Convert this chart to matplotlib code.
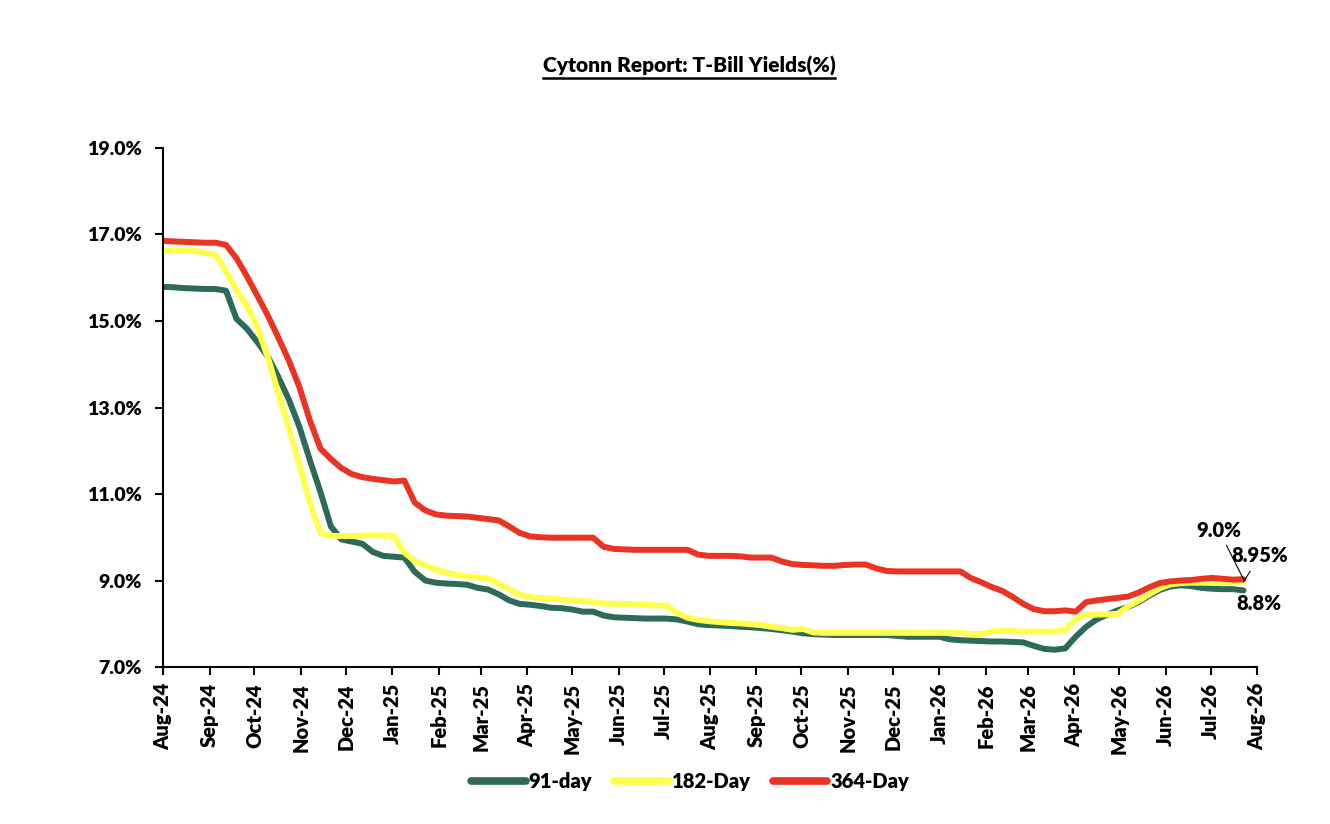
import numpy as np
import pandas as pd
import matplotlib
matplotlib.use("Agg")
import matplotlib.pyplot as plt
import matplotlib.dates as mdates
from matplotlib.lines import Line2D

plt.rcParams['font.family'] = ['Lato', 'DejaVu Sans']
W = "heavy"

# weekly auction dates
dates = pd.date_range("2024-08-01", periods=104, freq="7D")

# 91-day yields (%)
t91 = [15.79, 15.78, 15.76, 15.75, 15.74, 15.74, 15.70, 15.05, 14.82, 14.51,
       14.17, 13.70, 13.18, 12.55, 11.78, 11.05, 10.25, 9.95, 9.90, 9.85,
       9.66, 9.57, 9.55, 9.53, 9.20, 9.00, 8.95, 8.93, 8.92, 8.90,
       8.83, 8.79, 8.68, 8.54, 8.46, 8.44, 8.41, 8.37, 8.36, 8.33,
       8.28, 8.28, 8.19, 8.15, 8.14, 8.13, 8.12, 8.12, 8.12, 8.10,
       8.05, 7.99, 7.97, 7.96, 7.95, 7.93, 7.92, 7.90, 7.88, 7.85,
       7.82, 7.78, 7.76, 7.75, 7.74, 7.74, 7.74, 7.74, 7.74, 7.74,
       7.72, 7.70, 7.70, 7.70, 7.70, 7.64, 7.62, 7.61, 7.60, 7.59,
       7.59, 7.58, 7.57, 7.49, 7.42, 7.40, 7.43, 7.70, 7.93, 8.10,
       8.21, 8.31, 8.39, 8.50, 8.65, 8.78, 8.86, 8.89, 8.87, 8.83,
       8.81, 8.80, 8.80, 8.77]

# 182-day yields (%)
t182 = [16.63, 16.63, 16.63, 16.62, 16.58, 16.53, 16.15, 15.72, 15.35, 14.85,
        14.15, 13.33, 12.52, 11.67, 10.80, 10.10, 10.03, 10.03, 10.03, 10.04,
        10.05, 10.04, 10.03, 9.65, 9.45, 9.35, 9.25, 9.18, 9.13, 9.10,
        9.07, 9.05, 8.92, 8.80, 8.67, 8.62, 8.60, 8.58, 8.56, 8.54,
        8.53, 8.50, 8.47, 8.46, 8.46, 8.45, 8.44, 8.42, 8.42, 8.25,
        8.14, 8.09, 8.06, 8.04, 8.02, 8.01, 7.99, 7.97, 7.93, 7.90,
        7.86, 7.88, 7.80, 7.79, 7.79, 7.79, 7.79, 7.79, 7.79, 7.79,
        7.79, 7.79, 7.79, 7.79, 7.79, 7.79, 7.79, 7.76, 7.77, 7.82,
        7.84, 7.83, 7.82, 7.82, 7.82, 7.82, 7.86, 8.10, 8.21, 8.21,
        8.22, 8.23, 8.40, 8.53, 8.68, 8.82, 8.91, 8.94, 8.95, 8.95,
        8.95, 8.95, 8.97, 8.97]

# 364-day yields (%)
t364 = [16.85, 16.84, 16.83, 16.82, 16.81, 16.81, 16.76, 16.45, 16.03, 15.58,
        15.12, 14.61, 14.08, 13.47, 12.70, 12.05, 11.81, 11.60, 11.46, 11.39,
        11.35, 11.32, 11.29, 11.31, 10.80, 10.62, 10.53, 10.50, 10.49, 10.48,
        10.45, 10.42, 10.39, 10.25, 10.10, 10.02, 10.00, 9.99, 9.99, 9.99,
        9.99, 9.99, 9.78, 9.73, 9.72, 9.71, 9.71, 9.71, 9.71, 9.71,
        9.71, 9.60, 9.57, 9.57, 9.57, 9.56, 9.53, 9.53, 9.53, 9.44,
        9.38, 9.36, 9.35, 9.34, 9.34, 9.36, 9.37, 9.37, 9.28, 9.22,
        9.21, 9.21, 9.21, 9.21, 9.21, 9.21, 9.21, 9.06, 8.96, 8.85,
        8.76, 8.62, 8.46, 8.34, 8.29, 8.29, 8.31, 8.28, 8.50, 8.54,
        8.57, 8.60, 8.63, 8.72, 8.84, 8.94, 8.98, 9.00, 9.01, 9.04,
        9.06, 9.04, 9.02, 9.03]

series_names = ["91-day", "182-Day", "364-Day"]
colors = ["#2D6A59", "#FFFF4F", "#EA3323"]
end_labels = ["8.8%", "8.95%", "9.0%"]

fig = plt.figure(figsize=(13.3, 8.24), dpi=100)
ax = fig.add_axes([0.1226, 0.1905, 0.8225, 0.6299])

for vals, name, c in zip([t91, t182, t364], series_names, colors):
    ax.plot(dates, vals, color=c, lw=4.3, label=name, solid_capstyle="round")

ax.set_xlim(pd.Timestamp("2024-08-01"), pd.Timestamp("2026-08-01"))
ax.set_ylim(7, 19)
ax.set_yticks(np.arange(7, 19.1, 2))
ax.yaxis.set_major_formatter(plt.FuncFormatter(lambda v, p: f"{v:.1f}%"))
ax.xaxis.set_major_locator(mdates.MonthLocator())
ax.xaxis.set_major_formatter(mdates.DateFormatter("%b-%y"))
for lab in ax.get_xticklabels():
    lab.set_rotation(90)

ax.tick_params(axis="both", width=1.5, length=5.5, direction="out")
ax.tick_params(axis="y", labelsize=14, pad=10)
ax.tick_params(axis="x", labelsize=14.5, pad=6)
ax.spines["top"].set_visible(False)
ax.spines["right"].set_visible(False)
ax.spines["left"].set_linewidth(1.5)
ax.spines["bottom"].set_linewidth(1.5)
for lab in ax.get_xticklabels() + ax.get_yticklabels():
    lab.set_fontweight(W)

# end-of-series labels (positions in figure pixels, origin bottom-left)
last = dates[-1]
ax.annotate(end_labels[2], xy=(last, t364[-1]), xytext=(1219, 284),
            textcoords="figure pixels", fontsize=14.5, fontweight=W,
            ha="center", va="bottom",
            arrowprops=dict(arrowstyle="-", color="black", lw=0.8, shrinkA=2, shrinkB=0))
ax.annotate(end_labels[1], xy=(last, t182[-1]), xytext=(1260, 259),
            textcoords="figure pixels", fontsize=14.5, fontweight=W,
            ha="center", va="bottom",
            arrowprops=dict(arrowstyle="-", color="black", lw=0.8, shrinkA=3, shrinkB=0))
ax.annotate(end_labels[0], xy=(last, t91[-1]), xytext=(1236, 221),
            textcoords="figure pixels", fontsize=14.5, fontweight=W,
            ha="left", va="center")

leg = fig.legend(loc="center", bbox_to_anchor=(0.519, 0.052), ncol=3, frameon=False,
                 fontsize=14.5, handlelength=2.7, columnspacing=1.1, handletextpad=0.15)
for t in leg.get_texts():
    t.set_fontweight(W)
for h in leg.get_lines():
    h.set_linewidth(5.5)

title = fig.text(0.518, 0.912, "Cytonn Report: T-Bill Yields(%)", ha="center",
                 va="baseline", fontsize=15, fontweight=W)
fig.canvas.draw()
bb = title.get_window_extent().transformed(fig.transFigure.inverted())
fig.add_artist(Line2D([bb.x0, bb.x1], [bb.y0 - 0.003, bb.y0 - 0.003],
                      transform=fig.transFigure, color="black", lw=1.8))

fig.savefig("out.png", dpi=100)
